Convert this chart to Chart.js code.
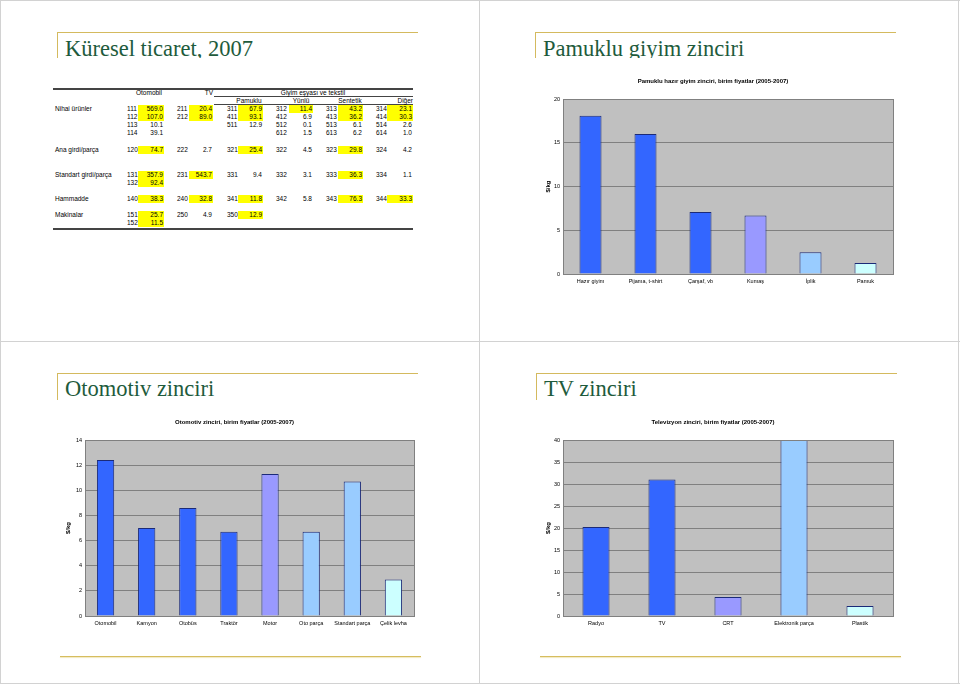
<!DOCTYPE html>
<html>
<head>
<meta charset="utf-8">
<script src="https://cdn.jsdelivr.net/npm/chart.js@4.4.1/dist/chart.umd.min.js"></script>
<style>
  body { margin: 0; background: #fff; }
  #page { position: relative; width: 960px; height: 684px; overflow: hidden; font-family: "Liberation Sans", Arial, sans-serif; }
  .frame { position: absolute; background: #d2d2d2; }
  .slide-title { position: absolute; overflow: hidden; border-top: 1px solid #d4ba5e; border-left: 1px solid #d4ba5e; }
  .slide-title span { position: absolute; left: 7px; white-space: nowrap; font-family: "Liberation Serif", serif; font-size: 22.5px; line-height: 22.5px; color: #1e5b3c; }
  .footer { position: absolute; height: 1px; background: #d6bd5f; box-shadow: 0 1px 1px #f1e6b8; }
  .cell { position: absolute; font-size: 6.5px; line-height: 8px; height: 8px; white-space: nowrap; color: #000; }
  .hl { background: #ffff00; }
  .rule { position: absolute; background: #444; }
  canvas { position: absolute; }
</style>
</head>
<body>
<div id="page">
  <div class="frame" style="left:0;top:0;width:960px;height:1px"></div>
  <div class="frame" style="left:0;top:683px;width:960px;height:1px"></div>
  <div class="frame" style="left:0;top:0;width:1px;height:684px"></div>
  <div class="frame" style="left:958px;top:0;width:1px;height:684px"></div>
  <div class="frame" style="left:479px;top:0;width:1px;height:684px"></div>
  <div class="frame" style="left:0;top:341px;width:960px;height:1px"></div>

  <div class="slide-title" style="left:57px;top:32px;width:360px;height:25px"><span style="top:4.5px">Küresel ticaret, 2007</span></div>
  <div class="slide-title" style="left:535px;top:32px;width:360px;height:25px"><span style="top:4.5px">Pamuklu giyim zinciri</span></div>
  <div class="slide-title" style="left:57px;top:373px;width:360px;height:26px"><span style="top:4px">Otomotiv zinciri</span></div>
  <div class="slide-title" style="left:536px;top:373px;width:360px;height:26px"><span style="top:4px">TV zinciri</span></div>

  <div class="footer" style="left:60px;top:656px;width:361px"></div>
  <div class="footer" style="left:540px;top:656px;width:361px"></div>

  <div id="trade-table"></div>

  <canvas id="cotton-chart" width="365" height="220" style="left:533px;top:70px"></canvas>
  <canvas id="auto-chart" width="364" height="221" style="left:55px;top:411px"></canvas>
  <canvas id="tv-chart" width="365" height="221" style="left:533px;top:411px"></canvas>
</div>

<script>
// Table: Küresel ticaret, 2007 ("*" = highlighted)
const headerTop = ["Otomobil", "TV", "Giyim eşyası ve tekstil"];
const headerSub = ["Pamuklu", "Yünlü", "Sentetik", "Diğer"];
const rowLabels = ["Nihai ürünler", "", "", "", "Ana girdi/parça", "Standart girdi/parça", "", "Hammadde", "Makinalar", ""];
const tableRows = [
  ["111 569.0*", "211 20.4*", "311 67.9*", "312 11.4*", "313 43.2*", "314 23.1*"],
  ["112 107.0*", "212 89.0*", "411 93.1*", "412 6.9", "413 36.2*", "414 30.3*"],
  ["113 10.1", "", "511 12.9", "512 0.1", "513 6.1", "514 2.6"],
  ["114 39.1", "", "", "612 1.5", "613 6.2", "614 1.0"],
  ["120 74.7*", "222 2.7", "321 25.4*", "322 4.5", "323 29.8*", "324 4.2"],
  ["131 357.9*", "231 543.7*", "331 9.4", "332 3.1", "333 36.3*", "334 1.1"],
  ["132 92.4*", "", "", "", "", ""],
  ["140 38.3*", "240 32.8*", "341 11.8*", "342 5.8", "343 76.3*", "344 33.3*"],
  ["151 25.7*", "250 4.9", "350 12.9*", "", "", ""],
  ["152 11.5*", "", "", "", "", ""],
];

// Pamuklu hazır giyim zinciri
const cottonLabels = ["Hazır giyim", "Pijama, t-shirt", "Çarşaf, vb", "Kumaş", "İplik", "Pamuk"];
const cottonValues = [18.1, 16.0, 7.1, 6.7, 2.5, 1.25];
const cottonColors = ["#3366FF", "#3366FF", "#3366FF", "#9999FF", "#99CCFF", "#CCFFFF"];

// Otomotiv zinciri
const autoLabels = ["Otomobil", "Kamyon", "Otobüs", "Traktör", "Motor", "Oto parça", "Standart parça", "Çelik levha"];
const autoValues = [12.4, 7.0, 8.6, 6.7, 11.3, 6.7, 10.7, 2.9];
const autoColors = ["#3366FF", "#3366FF", "#3366FF", "#3366FF", "#9999FF", "#99CCFF", "#99CCFF", "#CCFFFF"];

// Televizyon zinciri
const tvLabels = ["Radyo", "TV", "CRT", "Elektronik parça", "Plastik"];
const tvValues = [20.2, 31.0, 4.3, 42.0, 2.3];
const tvColors = ["#3366FF", "#3366FF", "#9999FF", "#99CCFF", "#CCFFFF"];

const FONT = "'Liberation Sans', Arial, sans-serif";

document.addEventListener("DOMContentLoaded", function () {
  buildTable();

  createBarChart("cotton-chart", "Pamuklu hazır giyim zinciri, birim fiyatlar (2005-2007)",
    cottonLabels, cottonValues, cottonColors, 20, 5, 12, 0.4);
  createBarChart("auto-chart", "Otomotiv zinciri, birim fiyatlar (2005-2007)",
    autoLabels, autoValues, autoColors, 14, 2, 10, 0.42);
  createBarChart("tv-chart", "Televizyon zinciri, birim fiyatlar (2005-2007)",
    tvLabels, tvValues, tvColors, 40, 5, 12, 0.41);
});

function addCell(parent, text, left, centerY, extra) {
  const div = document.createElement("div");
  div.className = "cell";
  div.textContent = text;
  div.style.left = left + "px";
  div.style.top = centerY - 4 + "px";
  Object.assign(div.style, extra || {});
  parent.appendChild(div);
  return div;
}

function addRule(parent, left, top, width, height) {
  const div = document.createElement("div");
  div.className = "rule";
  div.style.left = left + "px";
  div.style.top = top + "px";
  div.style.width = width + "px";
  div.style.height = height + "px";
  parent.appendChild(div);
}

function buildTable() {
  const table = document.getElementById("trade-table");

  // column layout (code x, highlight box left / right)
  const codeX = [127, 177, 227, 276, 326, 376];
  const boxL = [138, 189, 238, 289, 338, 387];
  const boxR = [164, 213, 263, 313, 363, 413];
  const rowY = [109, 117, 125, 133, 150, 175, 183, 199.3, 215.3, 223.3];

  addRule(table, 53, 88, 360, 1.5);
  addRule(table, 214, 96, 199, 1);
  addRule(table, 214, 104, 199, 1);
  addRule(table, 53, 228, 360, 1.5);

  addCell(table, headerTop[0], 129, 92.8, { width: "40px", textAlign: "center" });
  addCell(table, headerTop[1], 173, 92.8, { width: "40px", textAlign: "right" });
  addCell(table, headerTop[2], 253, 92.8, { width: "120px", textAlign: "center" });

  const subCenters = [249, 301, 350];
  subCenters.forEach((cx, i) => {
    addCell(table, headerSub[i], cx - 25, 100.7, { width: "50px", textAlign: "center" });
  });
  addCell(table, headerSub[3], 373, 100.7, { width: "40px", textAlign: "right" });

  tableRows.forEach((row, r) => {
    if (rowLabels[r]) addCell(table, rowLabels[r], 55, rowY[r]);

    row.forEach((entry, c) => {
      if (!entry) return;
      const [code, raw] = entry.split(" ");
      const highlighted = raw.endsWith("*");
      const value = raw.replace("*", "");

      addCell(table, code, codeX[c], rowY[r]);
      const box = addCell(table, value, boxL[c], rowY[r], {
        width: boxR[c] - boxL[c] - 1 + "px",
        paddingRight: "1px",
        textAlign: "right",
      });
      if (highlighted) box.classList.add("hl");
    });
  });
}

// grey plot background and frame, Excel style
const plotArea = {
  id: "plotArea",
  beforeDraw(chart) {
    const { ctx, chartArea: a } = chart;
    ctx.save();
    ctx.fillStyle = "#C0C0C0";
    ctx.fillRect(a.left, a.top, a.width, a.height);
    ctx.restore();
  },
  afterDraw(chart) {
    const { ctx, chartArea: a } = chart;
    ctx.save();
    ctx.strokeStyle = "#808080";
    ctx.lineWidth = 1;
    ctx.strokeRect(Math.round(a.left) + 0.5, Math.round(a.top) + 0.5, Math.round(a.width), Math.round(a.height));
    ctx.restore();
  },
};

function createBarChart(canvasId, title, labels, values, colors, yMax, yStep, yTitlePad, barPct) {
  const ctx = document.getElementById(canvasId).getContext("2d");
  new Chart(ctx, {
    type: "bar",
    data: {
      labels: labels,
      datasets: [
        {
          data: values,
          backgroundColor: colors,
          borderColor: "#1b2a78",
          borderWidth: 1,
          borderSkipped: "bottom",
          barPercentage: barPct,
          categoryPercentage: 1,
        },
      ],
    },
    options: {
      responsive: false,
      animation: false,
      layout: { padding: { left: 0, right: 5, top: 0, bottom: 0 } },
      plugins: {
        legend: { display: false },
        tooltip: { enabled: false },
        title: {
          display: true,
          text: title,
          color: "#000",
          font: { family: FONT, size: 6, weight: "bold" },
          padding: { top: 8, bottom: 13.8 },
        },
      },
      scales: {
        x: {
          grid: { display: false, drawTicks: false },
          border: { color: "#808080" },
          ticks: {
            color: "#000",
            font: { family: FONT, size: 5.5 },
            padding: 4,
            maxRotation: 0,
            autoSkip: false,
          },
          afterFit: (scale) => {
            scale.height = 16;
          },
        },
        y: {
          min: 0,
          max: yMax,
          grid: { color: "#808080", drawTicks: false },
          border: { color: "#808080" },
          ticks: {
            stepSize: yStep,
            color: "#000",
            font: { family: FONT, size: 5.5 },
            padding: 3,
          },
          title: {
            display: true,
            text: "$/kg",
            color: "#000",
            font: { family: FONT, size: 6, weight: "bold" },
            padding: { top: yTitlePad, bottom: 0 },
          },
          afterFit: (scale) => {
            scale.width = 30;
          },
        },
      },
    },
    plugins: [plotArea],
  });
}
</script>
</body>
</html>
